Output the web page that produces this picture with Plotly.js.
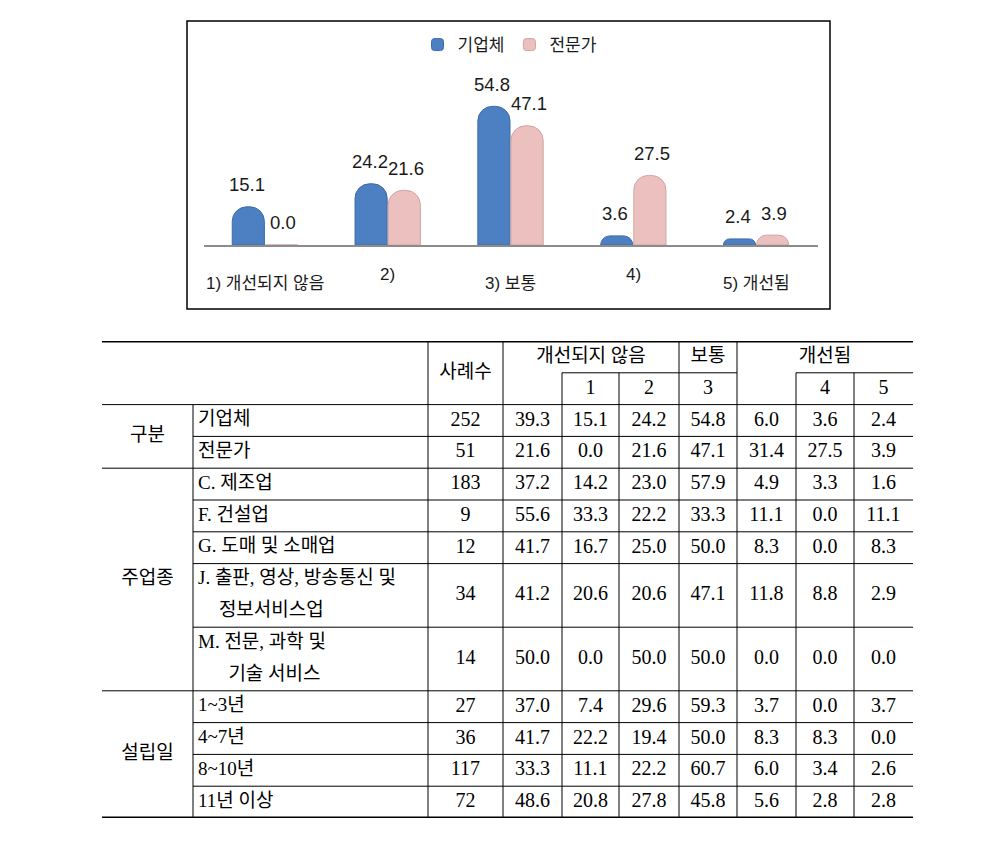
<!DOCTYPE html>
<html>
<head>
<meta charset="utf-8">
<script src="https://cdn.plot.ly/plotly-3.0.1.min.js"></script>
<style>
html, body { margin: 0; padding: 0; background: #ffffff; }
#chart { width: 1008px; height: 864px; }
</style>
</head>
<body>
<div id="chart"></div>
<script>
// ---------------- chart data ----------------
const categories = ['1) 개선되지 않음', '2)', '3) 보통', '4)', '5) 개선됨'];
const seriesNames = ['기업체', '전문가'];
const firmValues = [15.1, 24.2, 54.8, 3.6, 2.4];
const expertValues = [0.0, 21.6, 47.1, 27.5, 3.9];

// ---------------- table data ----------------
const headerTop = ['사례수', '개선되지 않음', '보통', '개선됨'];
const headerSub = ['1', '2', '3', '4', '5'];
const groupNames = ['구분', '주업종', '설립일'];
const groupSizes = [2, 5, 4];
const rowLabels = [
  ['기업체'],
  ['전문가'],
  ['C. 제조업'],
  ['F. 건설업'],
  ['G. 도매 및 소매업'],
  ['J. 출판, 영상, 방송통신 및', '정보서비스업'],
  ['M. 전문, 과학 및', '기술 서비스'],
  ['1~3년'],
  ['4~7년'],
  ['8~10년'],
  ['11년 이상']
];
const cases       = [252, 51, 183, 9, 12, 34, 14, 27, 36, 117, 72];
const notImproved = [39.3, 21.6, 37.2, 55.6, 41.7, 41.2, 50.0, 37.0, 41.7, 33.3, 48.6];
const score1      = [15.1, 0.0, 14.2, 33.3, 16.7, 20.6, 0.0, 7.4, 22.2, 11.1, 20.8];
const score2      = [24.2, 21.6, 23.0, 22.2, 25.0, 20.6, 50.0, 29.6, 19.4, 22.2, 27.8];
const score3      = [54.8, 47.1, 57.9, 33.3, 50.0, 47.1, 50.0, 59.3, 50.0, 60.7, 45.8];
const improved    = [6.0, 31.4, 4.9, 11.1, 8.3, 11.8, 0.0, 3.7, 8.3, 6.0, 5.6];
const score4      = [3.6, 27.5, 3.3, 0.0, 0.0, 8.8, 0.0, 0.0, 8.3, 3.4, 2.8];
const score5      = [2.4, 3.9, 1.6, 11.1, 8.3, 2.9, 0.0, 3.7, 0.0, 2.6, 2.8];

// ---------------- layout / style ----------------
const W = 1008, H = 864;
const px = x => x / W;
const py = y => 1 - y / H;

const chartFont = "'Liberation Sans', 'Noto Sans CJK KR', sans-serif";
const tableFont = "'Liberation Serif', 'Noto Sans CJK KR', serif";
const textColor = '#1a1a1a';

// chart geometry
const plotL = 203.5, plotR = 817.5, baseY = 245, unitPx = 2.53, yMax = 72;
const bargap = 0.46, bargroupgap = 0.03;
const catW = (plotR - plotL) / categories.length;
const labelShift = 18.2;
const labelLift = 22;
const tickDrop = [38, 29, 38, 29, 38];

const traces = [];
traces.push({
  type: 'bar', name: seriesNames[0], x: categories, y: firmValues,
  marker: { color: '#4C80C2', line: { color: '#3F6CA6', width: 1 }, cornerradius: '45%' },
  hoverinfo: 'skip', xaxis: 'x', yaxis: 'y'
});
traces.push({
  type: 'bar', name: seriesNames[1], x: categories, y: expertValues,
  marker: { color: '#EBC0BF', line: { color: '#D0A3A2', width: 1 }, cornerradius: '45%' },
  hoverinfo: 'skip', xaxis: 'x', yaxis: 'y'
});

const annotations = [];
const labelFontSpec = { family: chartFont, size: 18.5, color: textColor };
categories.forEach((c, i) => {
  annotations.push({ x: c, y: firmValues[i], xref: 'x', yref: 'y', text: firmValues[i].toFixed(1),
    showarrow: false, xshift: -labelShift, yshift: labelLift, yanchor: 'middle', xanchor: 'center',
    borderpad: 0, font: labelFontSpec });
  annotations.push({ x: c, y: expertValues[i], xref: 'x', yref: 'y', text: expertValues[i].toFixed(1),
    showarrow: false, xshift: labelShift, yshift: labelLift, yanchor: 'middle', xanchor: 'center',
    borderpad: 0, font: labelFontSpec });
  annotations.push({ x: c, y: 0, xref: 'x', yref: 'y', text: c, showarrow: false,
    yshift: -tickDrop[i], yanchor: 'middle', xanchor: 'center', borderpad: 0,
    font: { family: chartFont, size: 17, color: textColor } });
});

// ---------------- table ----------------
const colEdges = [0, 91, 326, 401, 460, 517, 577, 635, 694, 752, 811];
const tableLeft = 102, tableRight = 913, tableTop = 341, tableBottom = 818;
const headerUnits = 2;
const colCenter = c => (colEdges[c] + colEdges[c + 1]) / 2;

const rowTop = [];
let t = headerUnits;
rowLabels.forEach(l => { rowTop.push(t); t += l.length; });
const totalUnits = t;

// numeric cells
const numericCols = [cases, notImproved, score1, score2, score3, improved, score4, score5];
const cellX = [], cellY = [], cellT = [];
numericCols.forEach((arr, k) => {
  arr.forEach((v, r) => {
    cellX.push(colCenter(k + 2));
    cellY.push(rowTop[r] + rowLabels[r].length / 2);
    cellT.push(k === 0 ? String(v) : v.toFixed(1));
  });
});
traces.push({
  type: 'scatter', mode: 'text', x: cellX, y: cellY, text: cellT,
  textposition: 'middle center', textfont: { family: tableFont, size: 20, color: '#000' },
  xaxis: 'x2', yaxis: 'y2', showlegend: false, hoverinfo: 'skip', cliponaxis: false
});

// row labels (with hanging indent for continuation lines)
const cnv = document.createElement('canvas').getContext('2d');
cnv.font = "19px 'Liberation Serif'";
const labX = [], labY = [], labT = [];
rowLabels.forEach((lines, r) => {
  const prefix = lines[0].slice(0, lines[0].indexOf(' ') + 1);
  const indent = cnv.measureText(prefix).width + 4;
  lines.forEach((s, j) => {
    labX.push(colEdges[1] + 5 + (j > 0 ? indent : 0));
    labY.push(rowTop[r] + 0.5 + j);
    labT.push(s);
  });
});
traces.push({
  type: 'scatter', mode: 'text', x: labX, y: labY, text: labT,
  textposition: 'middle right', textfont: { family: tableFont, size: 19, color: '#000' },
  xaxis: 'x2', yaxis: 'y2', showlegend: false, hoverinfo: 'skip', cliponaxis: false
});

// group labels
const grpX = [], grpY = [];
let gi = 0;
groupSizes.forEach(n => {
  const top = rowTop[gi];
  const last = gi + n - 1;
  const bottom = rowTop[last] + rowLabels[last].length;
  grpX.push(colCenter(0));
  grpY.push((top + bottom) / 2);
  gi += n;
});
traces.push({
  type: 'scatter', mode: 'text', x: grpX, y: grpY, text: groupNames,
  textposition: 'middle center', textfont: { family: tableFont, size: 19, color: '#000' },
  xaxis: 'x2', yaxis: 'y2', showlegend: false, hoverinfo: 'skip', cliponaxis: false
});

// header labels
const headerTopSpan = [[2, 3], [3, 6], [6, 7], [7, 10]];
const headerTopRows = [[0, 2], [0, 1], [0, 1], [0, 1]];
const headerSubCols = [4, 5, 6, 8, 9];
const hX = [], hY = [], hT = [], hS = [];
headerTop.forEach((s, i) => {
  hX.push((colEdges[headerTopSpan[i][0]] + colEdges[headerTopSpan[i][1]]) / 2);
  hY.push((headerTopRows[i][0] + headerTopRows[i][1]) / 2);
  hT.push(s); hS.push(19);
});
headerSub.forEach((s, i) => {
  hX.push(colCenter(headerSubCols[i]));
  hY.push(1.5);
  hT.push(s); hS.push(20);
});
traces.push({
  type: 'scatter', mode: 'text', x: hX, y: hY, text: hT,
  textposition: 'middle center', textfont: { family: tableFont, size: hS, color: '#000' },
  xaxis: 'x2', yaxis: 'y2', showlegend: false, hoverinfo: 'skip', cliponaxis: false
});

// table rules
const shapes = [];
const hline = (y, x0, x1, w) => shapes.push({ type: 'line', xref: 'x2', yref: 'y2', x0, x1, y0: y, y1: y,
  line: { color: '#000', width: w } });
const vline = (x, y0, y1) => shapes.push({ type: 'line', xref: 'x2', yref: 'y2', x0: x, x1: x, y0, y1,
  line: { color: '#000', width: 1 } });
const fullW = colEdges[colEdges.length - 1];
hline(0, 0, fullW, 3);
hline(1, colEdges[4], colEdges[7], 1);
hline(1, colEdges[8], colEdges[10], 1);
hline(headerUnits, 0, fullW, 1);
const groupEnds = new Set();
let acc = 0;
groupSizes.forEach(n => { acc += n; groupEnds.add(acc - 1); });
rowLabels.forEach((l, r) => {
  const yb = rowTop[r] + l.length;
  if (r === rowLabels.length - 1) return;
  if (groupEnds.has(r)) hline(yb, 0, fullW, 1);
  else hline(yb, colEdges[1], fullW, 1);
});
hline(totalUnits, 0, fullW, 3);
vline(colEdges[1], headerUnits, totalUnits);
[2, 3, 6, 7].forEach(c => vline(colEdges[c], 0, totalUnits));
[4, 5, 8, 9].forEach(c => vline(colEdges[c], 1, totalUnits));

// chart frame
shapes.push({ type: 'rect', xref: 'paper', yref: 'paper', x0: px(187), x1: px(830), y0: py(309), y1: py(21),
  line: { color: '#000', width: 1.5 }, fillcolor: 'rgba(0,0,0,0)', layer: 'below' });

const layout = {
  width: W, height: H,
  margin: { l: 0, r: 0, t: 0, b: 0 },
  paper_bgcolor: '#ffffff', plot_bgcolor: 'rgba(0,0,0,0)',
  barmode: 'group', bargap: bargap, bargroupgap: bargroupgap,
  font: { family: chartFont, color: textColor },
  showlegend: true,
  legend: {
    orientation: 'h', x: px(510), xanchor: 'center', y: py(45), yanchor: 'middle',
    font: { family: chartFont, size: 17, color: textColor }, bgcolor: 'rgba(0,0,0,0)',
    itemwidth: 30, tracegroupgap: 0
  },
  xaxis: {
    type: 'category', domain: [px(plotL), px(plotR)], anchor: 'y',
    showline: true, linecolor: '#8c8c8c', linewidth: 1.5,
    showticklabels: false, ticks: '', showgrid: false, zeroline: false, fixedrange: true
  },
  yaxis: {
    domain: [py(baseY), py(baseY - yMax * unitPx)], range: [0, yMax], anchor: 'x',
    visible: false, showgrid: false, zeroline: false, fixedrange: true
  },
  xaxis2: {
    domain: [px(tableLeft), px(tableRight)], range: [0, fullW], anchor: 'y2',
    visible: false, showgrid: false, zeroline: false, fixedrange: true
  },
  yaxis2: {
    domain: [py(tableBottom), py(tableTop)], range: [totalUnits, 0], anchor: 'x2',
    visible: false, showgrid: false, zeroline: false, fixedrange: true
  },
  annotations: annotations,
  shapes: shapes
};

Plotly.newPlot('chart', traces, layout, { displayModeBar: false, staticPlot: true });
</script>
</body>
</html>
